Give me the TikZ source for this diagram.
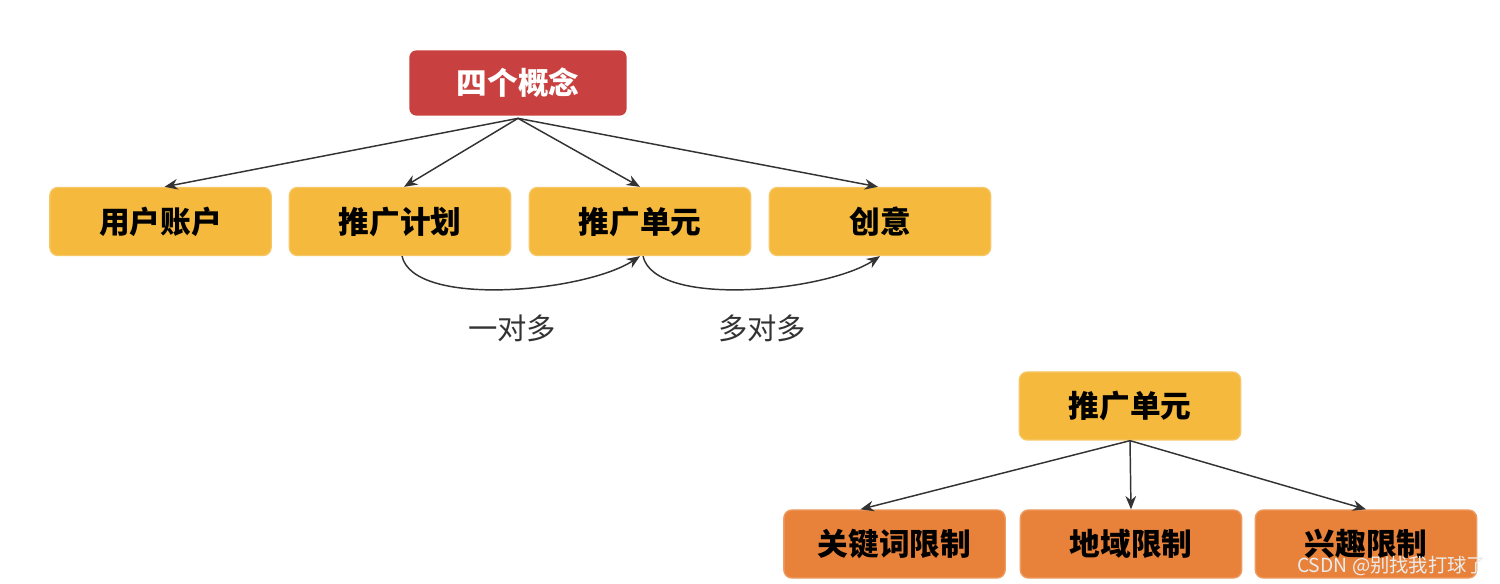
\documentclass[tikz,border=0pt]{standalone}
\usepackage{fontspec}
\setmainfont{Noto Sans CJK SC}
\usetikzlibrary{arrows.meta,shadows,calc}
\definecolor{boxred}{HTML}{C8403F}
\definecolor{boxyel}{HTML}{F4B93D}
\definecolor{boxora}{HTML}{E8823A}
\definecolor{linec}{HTML}{333333}
\begin{document}
\begin{tikzpicture}[x=0.75pt,y=-0.75pt,
  base/.style={rectangle, rounded corners=6pt, minimum width=166pt, minimum height=51pt,
    inner sep=0pt, font=\fontsize{23}{26}\selectfont\bfseries},
  redbox/.style={base, fill=boxred, text=white, draw=white, line width=2pt,
    drop shadow={opacity=0.3, shadow xshift=0.8pt, shadow yshift=-0.8pt}},
  yelbox/.style={base, fill=boxyel, draw=boxyel!80!white, line width=1pt, text=black},
  orabox/.style={base, fill=boxora, draw=boxora!80!white, line width=1pt, text=black},
  conn/.style={draw=linec, line width=1.1pt, -{Stealth[length=10pt,width=8pt]}},
  lab/.style={font=\fontsize{22}{26}\selectfont, text=black!80}]
\useasboundingbox (0,0) rectangle (1500,584);
\fill[white] (0,0) rectangle (1500,584);

\node[redbox, minimum width=165pt] (root) at (518,83) {四个概念};

\node[yelbox] (acct) at (160.5,221.5) {用户账户};
\node[yelbox] (plan) at (400,221.5) {推广计划};
\node[yelbox] (unit) at (640,221.5) {推广单元};
\node[yelbox] (crea) at (880,221.5) {创意};

\draw[conn] (root.south) -- ($(acct.north)+(4,0)$);
\draw[conn] (root.south) -- ($(plan.north)+(4,0)$);
\draw[conn] (root.south) -- (unit.north);
\draw[conn] (root.south) -- ($(crea.north)+(-2,0)$);

\draw[conn] ($(plan.south)+(2,0)$) .. controls +(12,52) and +(-55,36) .. (unit.south);
\draw[conn] ($(unit.south)+(3,0)$) .. controls +(12,52) and +(-55,36) .. (crea.south);

\node[lab] (l1) at (512,328) {一对多};
\node[lab] (l2) at (762,328) {多对多};

\node[yelbox] (unit2) at (1130,406) {推广单元};
\node[orabox] (kw) at (894.5,544) {关键词限制};
\node[orabox] (geo) at (1131,544) {地域限制};
\node[orabox] (int) at (1366,544) {兴趣限制};

\draw[conn] (unit2.south) -- ($(kw.north)+(-34,0)$);
\draw[conn] (unit2.south) -- (geo.north);
\draw[conn] (unit2.south) -- (int.north);

\node[font=\fontsize{14.5}{16}\selectfont, text=white!92!black, anchor=east] (wm) at (1491,566) {CSDN @别找我打球了};
\end{tikzpicture}
\end{document}
